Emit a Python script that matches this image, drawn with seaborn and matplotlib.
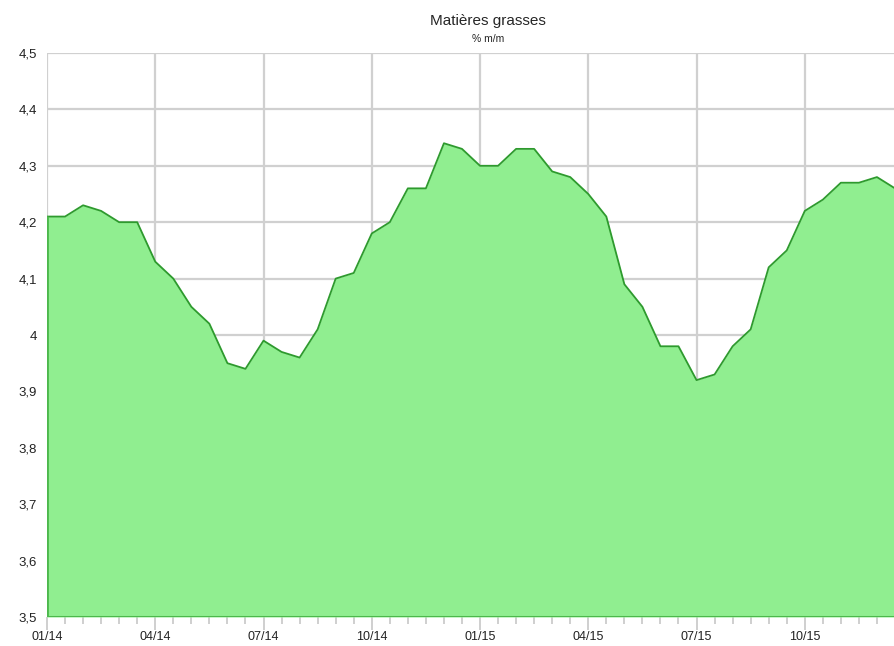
import matplotlib
matplotlib.use("Agg")
import matplotlib.pyplot as plt
import seaborn as sns
import numpy as np
import pandas as pd

# Valeurs semi-mensuelles (1er et 15 du mois), de 01/2014 à 12/2015
valeurs = [4.21, 4.21, 4.23, 4.22, 4.20, 4.20,
           4.13, 4.10, 4.05, 4.02, 3.95, 3.94,
           3.99, 3.97, 3.96, 4.01, 4.10, 4.11,
           4.18, 4.20, 4.26, 4.26, 4.34, 4.33,
           4.30, 4.30, 4.33, 4.33, 4.29, 4.28,
           4.25, 4.21, 4.09, 4.05, 3.98, 3.98,
           3.92, 3.93, 3.98, 4.01, 4.12, 4.15,
           4.22, 4.24, 4.27, 4.27, 4.28, 4.26]
etiquettes_x = ["01/14", "04/14", "07/14", "10/14", "01/15", "04/15", "07/15", "10/15"]
etiquettes_y = ["3,5", "3,6", "3,7", "3,8", "3,9", "4", "4,1", "4,2", "4,3", "4,4", "4,5"]
titre = "Matières grasses"
sous_titre = "% m/m"

df = pd.DataFrame({"pos": np.arange(len(valeurs)), "valeur": valeurs})

sns.set_style("white")
plt.rcParams['font.family'] = ['Liberation Sans', 'DejaVu Sans']

fig = plt.figure(figsize=(8.95, 6.46), dpi=100)
ax = fig.add_axes([47 / 895, 29 / 646, 848 / 895, 564 / 646])

# grille
for v in np.arange(3.5, 4.51, 0.1):
    ax.axhline(v, color="#d0d0d0", lw=1.6, zorder=0)
for p in range(0, len(valeurs), 6):
    ax.axvline(p, color="#d0d0d0", lw=1.6, zorder=0)

# surface + ligne
ax.fill_between(df["pos"], 3.5, df["valeur"], color="#90ee90", lw=0, zorder=2)
sns.lineplot(data=df, x="pos", y="valeur", ax=ax, color="#2e9a2e", lw=1.3, zorder=3)
ax.plot([0, 0], [3.5, valeurs[0]], color="#4cb84c", lw=2, zorder=3)
ax.axhline(3.5, color="#4cb84c", lw=2.2, zorder=3)

ax.set_xlim(0, 46.6)
ax.set_ylim(3.5, 4.5)
for s in ax.spines.values():
    s.set_visible(False)

ax.set_xticks(range(0, len(valeurs), 6))
ax.set_xticklabels(etiquettes_x, fontsize=9, color="#222222")
ax.set_xticks(range(0, len(valeurs)), minor=True)
ax.tick_params(axis="x", which="major", length=9, width=1.3, color="#cccccc", pad=1, bottom=True)
ax.tick_params(axis="x", which="minor", length=5, width=1.3, color="#cccccc", bottom=True)
ax.set_yticks(np.round(np.arange(3.5, 4.51, 0.1), 1))
ax.set_yticklabels(etiquettes_y, fontsize=9.5, color="#222222")
ax.tick_params(axis="y", length=0, pad=7)
ax.set_xlabel("")
ax.set_ylabel("")

fig.text(0.545, 0.962, titre, ha="center", fontsize=11)
fig.text(0.545, 0.935, sous_titre, ha="center", fontsize=7.5)

fig.savefig("out.png", dpi=100)
